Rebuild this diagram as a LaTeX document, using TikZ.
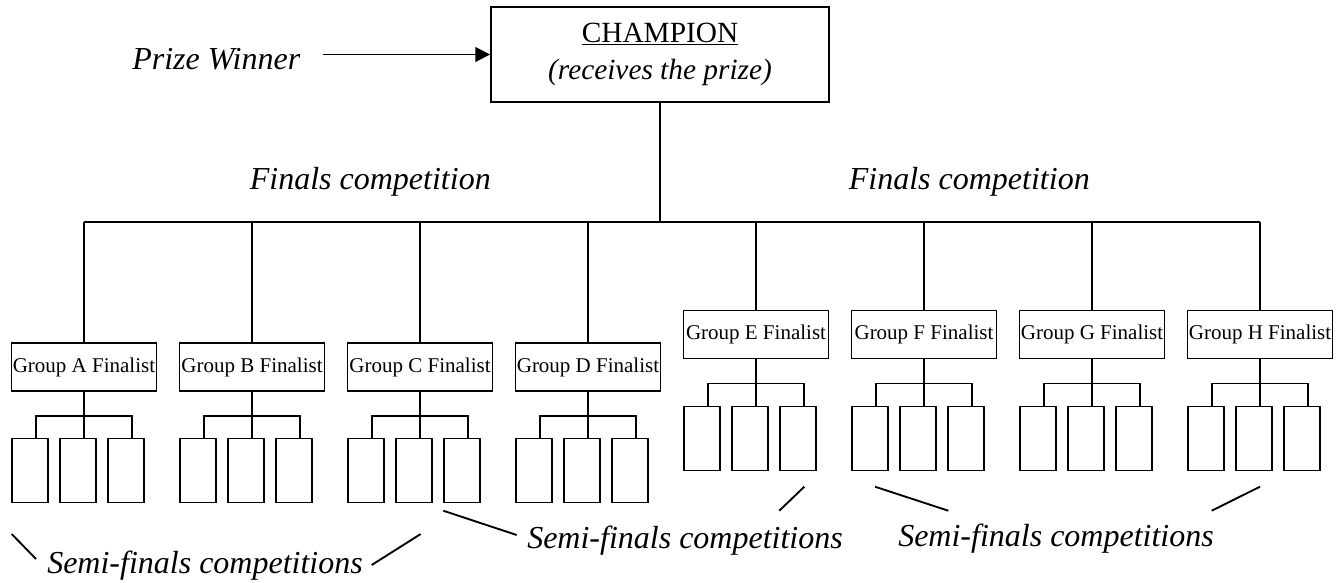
\documentclass[tikz,border=0pt]{standalone}
\usepackage{fontspec}
\setmainfont{Liberation Serif}
\usetikzlibrary{arrows.meta}
\begin{document}
\begin{tikzpicture}[x=0.75pt,y=-0.75pt,
  ln/.style={line width=1.4pt},
  champbox/.style={draw,ln,inner sep=0pt,minimum width=253.5pt,minimum height=71.25pt,align=center,font=\fontsize{22}{27.75}\selectfont},
  grpbox/.style={draw,ln,inner sep=0pt,minimum width=108.75pt,minimum height=36pt,font=\fontsize{15.75}{18}\selectfont},
  smallbox/.style={draw,ln,inner sep=0pt,minimum width=27pt,minimum height=48pt},
  lbl/.style={inner sep=0pt,font=\fontsize{24}{28}\selectfont\itshape},
]
\useasboundingbox (0,0) rectangle (1341,582);

% champion
\node[champbox] (champ) at (660,54.5) {\underline{CHAMPION}\\\textit{(receives the prize)}};
\node[lbl,anchor=base west] (prize) at (132,69) {Prize Winner};
\coordinate (arrstart) at (323,54.5);
\draw[ln,-{Triangle[length=11pt,width=11pt]}] (arrstart) -- (champ.west);

% finals labels
\node[lbl,anchor=base east] (fin1) at (491,189) {Finals competition};
\node[lbl,anchor=base east] (fin2) at (1090,189) {Finals competition};

% group boxes
\foreach \i/\L in {1/A,2/B,3/C,4/D}{
  \node[grpbox] (g\i) at ({84+168*(\i-1)},367) {Group \L\ Finalist};
  \foreach \k/\dx in {1/-54.3,2/-6,3/41.7}
    \node[smallbox] (s\i\k) at ({84+168*(\i-1)+\dx},470.5) {};
}
\foreach \i/\L in {5/E,6/F,7/G,8/H}{
  \node[grpbox] (g\i) at ({84+168*(\i-1)},334.5) {Group \L\ Finalist};
  \foreach \k/\dx in {1/-54.3,2/-6,3/41.7}
    \node[smallbox] (s\i\k) at ({84+168*(\i-1)+\dx},438.5) {};
}

% finals tree
\coordinate (top) at (660,222);
\draw[ln] (champ.south -| top) -- (top);
\draw[ln] (top -| g1.north) -- (top -| g8.north);
\foreach \i in {1,...,8}{
  \draw[ln] (g\i.north |- top) -- (g\i.north);
  \draw[ln] (g\i.south) -- ++(0,24) coordinate (j\i);
  \draw[ln] ([xshift=4.5pt]s\i1.north) |- (j\i) -| ([xshift=4.5pt]s\i3.north);
  \draw[ln] (j\i) -- ([xshift=4.5pt]s\i2.north);
}

% semi-finals labels
\node[lbl,anchor=base west] (semi1) at (47,573) {Semi-finals competitions};
\node[lbl,anchor=base west] (semi2) at (527,548) {Semi-finals competitions};
\node[lbl,anchor=base west] (semi3) at (898,546) {Semi-finals competitions};

\coordinate (a1) at (11.7,534);  \coordinate (a2) at (36,559);
\coordinate (b1) at (371.7,565); \coordinate (b2) at (420.7,534);
\coordinate (c1) at (443.3,510.7); \coordinate (c2) at (516.7,535);
\coordinate (d1) at (804.3,486.7); \coordinate (d2) at (779.3,510.7);
\coordinate (e1) at (875,486.7); \coordinate (e2) at (948.3,510.7);
\coordinate (f1) at (1260,486.7); \coordinate (f2) at (1211.7,510.7);
\foreach \p in {a,b,c,d,e,f}
  \draw[ln] (\p1) -- (\p2);
\end{tikzpicture}
\end{document}
